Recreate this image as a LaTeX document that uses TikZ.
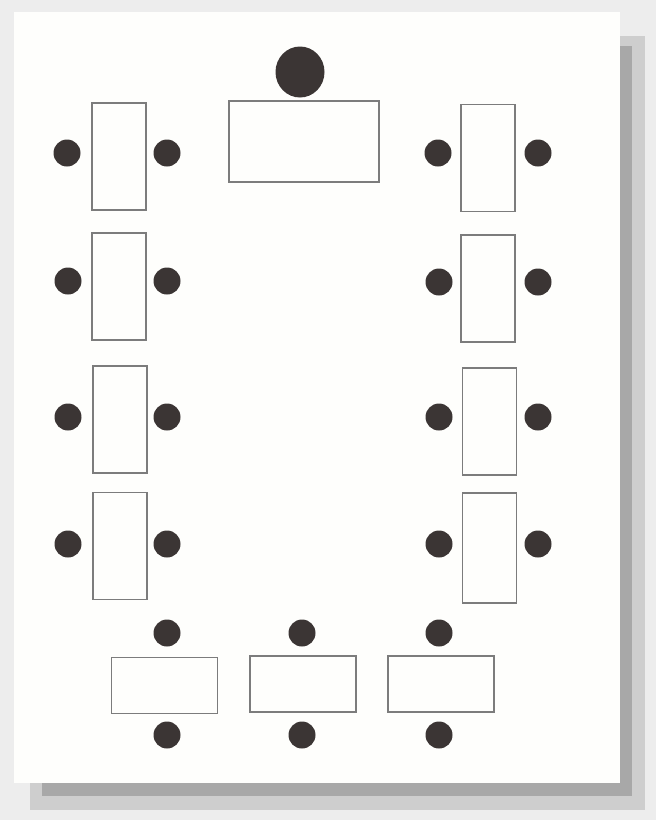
\documentclass[tikz,border=0pt]{standalone}
\usepackage{tikz}
\usepackage{xcolor}
\usetikzlibrary{positioning,shapes.geometric}
\definecolor{seatgray}{HTML}{3B3534}
\definecolor{deskline}{HTML}{7C7C7C}
\definecolor{backgray}{HTML}{EDEDED}
\definecolor{shadowdark}{HTML}{A8A8A8}
\definecolor{shadowlight}{HTML}{CECECE}
\definecolor{paperwhite}{HTML}{FEFEFC}
\tikzset{
  deskbox/.style={
    draw=deskline,
    line width=1.3pt,
    fill=paperwhite,
    inner sep=0pt,
    minimum width=54pt,
    minimum height=107pt
  },
  widedesk/.style={
    deskbox,
    minimum width=106pt,
    minimum height=56pt
  },
  seatdot/.style={circle, fill=seatgray, inner sep=0pt, minimum size=27pt},
  teacherdot/.style={ellipse, fill=seatgray, inner sep=0pt, minimum width=49pt, minimum height=51pt}
}

\begin{document}
\begin{tikzpicture}[x=1pt, y=-1pt]
% page and shadow
\fill[backgray] (0,0) rectangle (656,820);
\fill[shadowlight] (30,36) rectangle (645,810);
\fill[shadowdark] (42,46) rectangle (632,796);
\fill[paperwhite] (14,12) rectangle (620,783);
\useasboundingbox (0,0) rectangle (656,820);

% teacher
\node[teacherdot] (teacher) at (300,72) {};
\node[widedesk, minimum width=150pt, minimum height=81pt] (tdesk) at (304,141.5) {};

% left column
\node[deskbox] (l1) at (119,156.5) {};
\node[deskbox] (l2) at (119,286.5) {};
\node[deskbox] (l3) at (120,419.5) {};
\node[deskbox] (l4) at (120,546) {};
\node[seatdot] (l1a) at (67,153) {};
\node[seatdot] (l1b) at (167,153) {};
\node[seatdot] (l2a) at (68,281) {};
\node[seatdot] (l2b) at (167,281) {};
\node[seatdot] (l3a) at (68,417) {};
\node[seatdot] (l3b) at (167,417) {};
\node[seatdot] (l4a) at (68,544) {};
\node[seatdot] (l4b) at (167,544) {};

% right column
\node[deskbox] (r1) at (488,158) {};
\node[deskbox] (r2) at (488,288.5) {};
\node[deskbox] (r3) at (489.5,421.5) {};
\node[deskbox, minimum height=110pt] (r4) at (489.5,548) {};
\node[seatdot] (r1a) at (438,153) {};
\node[seatdot] (r1b) at (538,153) {};
\node[seatdot] (r2a) at (439,282) {};
\node[seatdot] (r2b) at (538,282) {};
\node[seatdot] (r3a) at (439,417) {};
\node[seatdot] (r3b) at (538,417) {};
\node[seatdot] (r4a) at (439,544) {};
\node[seatdot] (r4b) at (538,544) {};

% front row
\node[widedesk] (b1) at (164.5,685.5) {};
\node[widedesk] (b2) at (303,684) {};
\node[widedesk] (b3) at (441,684) {};
\node[seatdot] (b1a) at (167,633) {};
\node[seatdot] (b1b) at (167,735) {};
\node[seatdot] (b2a) at (302,633) {};
\node[seatdot] (b2b) at (302,735) {};
\node[seatdot] (b3a) at (439,633) {};
\node[seatdot] (b3b) at (439,735) {};
\end{tikzpicture}
\end{document}
